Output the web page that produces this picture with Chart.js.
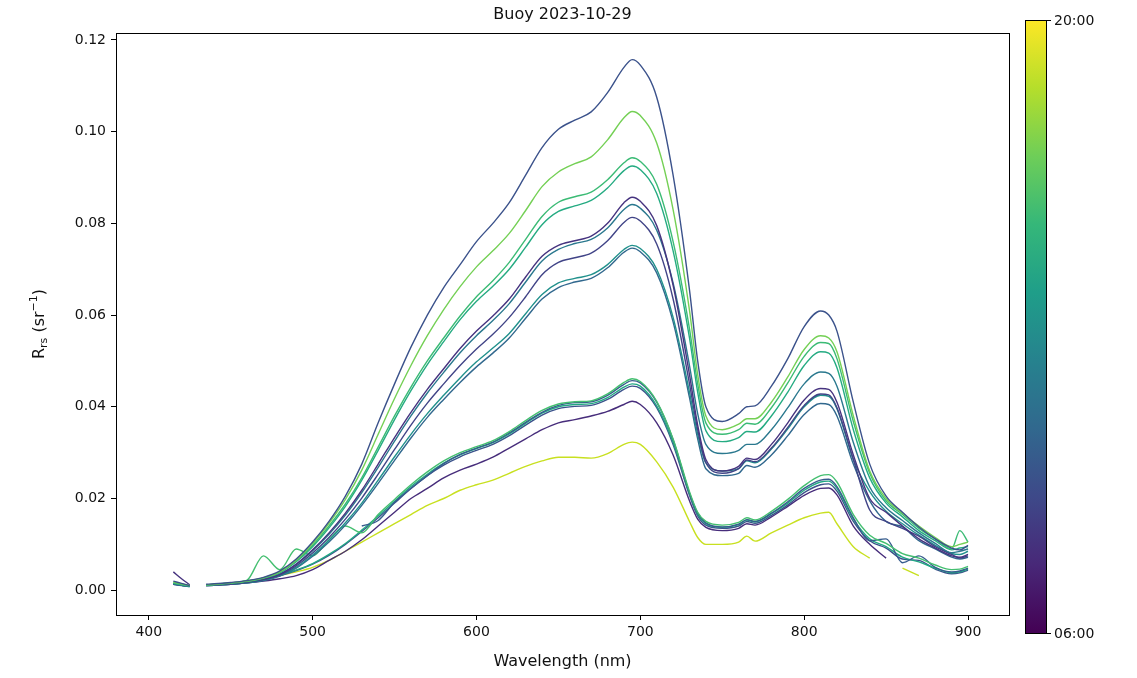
<!DOCTYPE html>
<html>
<head>
<meta charset="utf-8">
<script src="https://cdn.jsdelivr.net/npm/chart.js@4.4.1/dist/chart.umd.min.js"></script>
<style>
  html, body { margin: 0; padding: 0; background: #fff; }
  #wrap { width: 1137px; height: 678px; }
</style>
</head>
<body>
<div id="wrap"><canvas id="rrsChart"></canvas></div>
<script>
// wavelength grid (nm)
const wavelengths = [415, 420, 425, 430, 435, 440,
    450, 460, 470, 480, 490, 500, 510, 520, 530, 540,
    550, 560, 570, 580, 590, 600, 610, 620, 630, 640,
    650, 660, 670, 680, 690, 695, 700,
    710, 720, 730, 735, 740, 750, 760, 765, 770,
    780, 790, 800, 810, 815, 820, 830,
    840, 850, 860, 870, 880, 890, 895, 900];

const xTicks = [400, 500, 600, 700, 800, 900];
const yTicks = [0.00, 0.02, 0.04, 0.06, 0.08, 0.10, 0.12];
const colorbarLabels = ['06:00', '20:00'];

// Rrs spectra, one per measurement
const rrsA = [.0020, .0015, .0010, null, .0013, .0014,
    .0017, .0021, .0028, .0042, .0068, .0105, .0150, .0205, .0275, .0365,
    .0450, .0530, .0600, .0660, .0710, .0760, .0800, .0845, .0905, .0965,
    .1005, .1025, .1043, .1085, .1140, .1157, .1145,
    .1075, .0905, .0655, .0500, .0400, .0368, .0385, .0400, .0402,
    .0445, .0505, .0575, .0609, .0600, .0565, .0410,
    .0275, .0205, .0170, .0138, .0112, .0092, .0088, .0098];
const rrsB = [.0018, .0014, .0010, null, .0012, .0013,
    .0016, .0020, .0027, .0040, .0066, .0102, .0146, .0198, .0262, .0340,
    .0418, .0490, .0555, .0612, .0662, .0705, .0740, .0778, .0828, .0880,
    .0912, .0930, .0945, .0982, .1030, .1044, .1035,
    .0975, .0830, .0610, .0470, .0380, .0350, .0362, .0374, .0374,
    .0410, .0465, .0525, .0555, .0550, .0520, .0380,
    .0260, .0200, .0168, .0140, .0115, .0095, .0100, .0105];
const rrsC = [.0016, .0013, .0010, null, .0012, .0013,
    .0016, .0020, .0027, .0040, .0064, .0098, .0140, .0188, .0245, .0312,
    .0380, .0443, .0500, .0550, .0598, .0640, .0675, .0715, .0765, .0815,
    .0846, .0858, .0868, .0895, .0932, .0943, .0935,
    .0885, .0760, .0570, .0450, .0365, .0340, .0350, .0364, .0362,
    .0398, .0452, .0510, .0540, .0538, .0505, .0368,
    .0255, .0195, .0165, .0135, .0112, .0090, .0130, .0105];
const rrsD = [.0015, .0012, .0009, null, .0011, .0012,
    .0015, .0019, .0026, .0038, .0062, .0095, .0136, .0183, .0240, .0305,
    .0372, .0435, .0492, .0542, .0590, .0630, .0663, .0700, .0748, .0797,
    .0826, .0838, .0850, .0877, .0915, .0925, .0917,
    .0865, .0740, .0550, .0432, .0348, .0324, .0333, .0346, .0345,
    .0380, .0432, .0490, .0520, .0517, .0485, .0350,
    .0245, .0190, .0160, .0130, .0108, .0088, .0092, .0095];
const rrsE = [.0040, .0025, .0012, null, .0011, .0012,
    .0014, .0018, .0024, .0035, .0057, .0088, .0125, .0168, .0218, .0275,
    .0333, .0388, .0438, .0483, .0527, .0565, .0598, .0635, .0683, .0728,
    .0752, .0762, .0772, .0800, .0845, .0857, .0848,
    .0795, .0665, .0470, .0360, .0285, .0260, .0270, .0288, .0285,
    .0318, .0365, .0415, .0440, .0438, .0410, .0295,
    .0200, .0170, .0140, .0112, .0092, .0075, .0072, .0078];
const rrsF = [.0015, .0012, .0009, null, .0011, .0012,
    .0014, .0018, .0024, .0035, .0056, .0086, .0122, .0164, .0213, .0268,
    .0325, .0380, .0430, .0475, .0518, .0555, .0588, .0625, .0672, .0718,
    .0743, .0756, .0765, .0790, .0830, .0841, .0833,
    .0785, .0670, .0490, .0385, .0318, .0298, .0305, .0318, .0318,
    .0350, .0398, .0450, .0476, .0473, .0445, .0322,
    .0225, .0180, .0152, .0125, .0102, .0082, .0085, .0090];
const rrsG = [.0014, .0011, .0009, null, .0010, .0011,
    .0013, .0017, .0023, .0033, .0053, .0081, .0115, .0155, .0201, .0253,
    .0307, .0360, .0408, .0450, .0490, .0526, .0558, .0595, .0640, .0688,
    .0715, .0725, .0735, .0762, .0802, .0813, .0805,
    .0755, .0635, .0450, .0350, .0278, .0255, .0265, .0284, .0280,
    .0310, .0355, .0403, .0428, .0426, .0398, .0285,
    .0175, .0150, .0135, .0118, .0095, .0078, .0070, .0075];
const rrsH = [.0014, .0011, .0008, null, .0010, .0011,
    .0013, .0016, .0022, .0032, .0050, .0077, .0109, .0147, .0190, .0240,
    .0291, .0340, .0385, .0425, .0463, .0498, .0528, .0560, .0603, .0645,
    .0670, .0680, .0688, .0710, .0743, .0752, .0745,
    .0700, .0595, .0432, .0340, .0278, .0260, .0265, .0282, .0278,
    .0308, .0352, .0400, .0425, .0423, .0396, .0285,
    .0215, .0172, .0145, .0120, .0098, .0080, .0078, .0085];
const rrsI = [.0013, .0010, .0008, null, .0010, .0011,
    .0013, .0016, .0021, .0031, .0048, .0074, .0105, .0142, .0185, .0233,
    .0283, .0332, .0377, .0416, .0453, .0487, .0517, .0550, .0593, .0635,
    .0660, .0672, .0680, .0703, .0737, .0746, .0738,
    .0692, .0585, .0420, .0330, .0265, .0250, .0255, .0272, .0268,
    .0295, .0337, .0383, .0407, .0405, .0380, .0275,
    .0195, .0150, .0138, .0108, .0090, .0072, .0068, .0072];
const rrsJ = [.0015, .0012, .0010, null, .0012, .0013,
    .0016, .0022, .0075, .0045, .0090, .0075, .0110, .0140, .0125, .0165,
    .0198, .0230, .0258, .0282, .0300, .0313, .0326, .0346, .0370, .0392,
    .0406, .0411, .0413, .0428, .0453, .0461, .0455,
    .0412, .0330, .0215, .0170, .0150, .0142, .0148, .0158, .0153,
    .0172, .0198, .0228, .0250, .0252, .0236, .0165,
    .0120, .0102, .0080, .0070, .0055, .0045, .0046, .0052];
const rrsK = [null, null, null, null, null, null,
    null, null, null, null, null, null, null, null, .0140, .0152,
    .0192, .0222, .0250, .0276, .0296, .0310, .0323, .0343, .0366, .0388,
    .0403, .0409, .0411, .0425, .0449, .0457, .0452,
    .0410, .0328, .0212, .0168, .0147, .0138, .0144, .0154, .0150,
    .0168, .0193, .0222, .0240, .0242, .0226, .0158,
    .0108, .0112, .0060, .0075, .0050, .0040, .0042, .0048];
const rrsL = [.0014, .0011, .0009, null, .0011, .0012,
    .0015, .0019, .0025, .0033, .0044, .0058, .0078, .0102, .0131, .0162,
    .0194, .0226, .0253, .0277, .0295, .0309, .0322, .0341, .0364, .0386,
    .0400, .0405, .0407, .0420, .0443, .0450, .0445,
    .0402, .0322, .0210, .0165, .0145, .0137, .0143, .0153, .0149,
    .0167, .0190, .0218, .0236, .0238, .0222, .0155,
    .0112, .0095, .0072, .0062, .0048, .0038, .0040, .0046];
const rrsM = [.0014, .0011, .0009, null, .0011, .0012,
    .0015, .0018, .0024, .0032, .0043, .0057, .0076, .0100, .0128, .0158,
    .0190, .0222, .0250, .0273, .0291, .0305, .0318, .0337, .0360, .0382,
    .0396, .0401, .0403, .0416, .0438, .0445, .0440,
    .0398, .0318, .0207, .0162, .0142, .0135, .0140, .0150, .0146,
    .0163, .0186, .0213, .0230, .0232, .0216, .0150,
    .0108, .0092, .0068, .0065, .0046, .0036, .0038, .0044];
const rrsN = [.0013, .0011, .0009, null, .0010, .0011,
    .0013, .0016, .0020, .0025, .0032, .0045, .0065, .0085, .0110, .0140,
    .0170, .0200, .0222, .0245, .0262, .0275, .0290, .0310, .0330, .0350,
    .0365, .0372, .0380, .0390, .0405, .0412, .0405,
    .0365, .0295, .0195, .0155, .0137, .0130, .0135, .0145, .0142,
    .0160, .0183, .0207, .0222, .0223, .0208, .0140,
    .0100, .0070, null, null, null, null, null, null];
const rrsO = [null, null, null, null, null, .0012,
    .0014, .0018, .0024, .0032, .0040, .0050, .0065, .0085, .0105, .0125,
    .0145, .0165, .0185, .0200, .0218, .0230, .0240, .0255, .0270, .0282,
    .0290, .0290, .0288, .0298, .0318, .0323, .0318,
    .0280, .0225, .0150, .0115, .0100, .0100, .0105, .0118, .0107,
    .0125, .0142, .0158, .0168, .0170, .0145, .0095,
    .0070, null, .0048, .0032, null, null, null, null];

const spectra = [rrsA, rrsB, rrsC, rrsD, rrsE, rrsF, rrsG, rrsH, rrsI,
                 rrsJ, rrsK, rrsL, rrsM, rrsN, rrsO];
const lineColors = ['#3b528b', '#74d055', '#3bbb75', '#25ab82', '#46337f',
                    '#2a788e', '#414487', '#21918c', '#31688e',
                    '#44bf70', '#365c8d', '#22a884', '#3b528b', '#472d7b', '#c8e020'];

const viridis = ['#440154', '#482878', '#3e4989', '#31688e', '#26828e',
                 '#1f9e89', '#35b779', '#6ece58', '#b5de2b', '#fde725'];

const FONT = 'DejaVu Sans, sans-serif';

const datasets = spectra.map((vals, i) => ({
    data: wavelengths.map((w, j) => ({ x: w, y: vals[j] })),
    borderColor: lineColors[i],
    borderWidth: 1.4,
    pointRadius: 0,
    fill: false,
    spanGaps: false,
    cubicInterpolationMode: 'monotone'
}));

const decorations = {
    id: 'decorations',
    afterDraw(chart) {
        const ctx = chart.ctx;
        const a = chart.chartArea;
        ctx.save();
        // frame
        ctx.strokeStyle = '#000';
        ctx.lineWidth = 1;
        ctx.strokeRect(a.left + 0.5, a.top + 0.5, a.right - a.left, a.bottom - a.top);

        ctx.fillStyle = '#111';
        ctx.textAlign = 'center';
        ctx.textBaseline = 'middle';
        ctx.font = '16px ' + FONT;
        ctx.fillText('Buoy 2023-10-29', (a.left + a.right) / 2, 15);
        ctx.fillText('Wavelength (nm)', (a.left + a.right) / 2, 662);

        // y label R_rs (sr^-1)
        ctx.translate(40, (a.top + a.bottom) / 2);
        ctx.rotate(-Math.PI / 2);
        const parts = [
            { t: 'R', f: '16px ' + FONT, dy: 0 },
            { t: 'rs', f: '11px ' + FONT, dy: 4 },
            { t: ' (sr', f: '16px ' + FONT, dy: 0 },
            { t: '\u22121', f: '11px ' + FONT, dy: -6 },
            { t: ')', f: '16px ' + FONT, dy: 0 }
        ];
        let total = 0;
        parts.forEach(p => { ctx.font = p.f; p.w = ctx.measureText(p.t).width; total += p.w; });
        let x = -total / 2;
        ctx.textAlign = 'left';
        parts.forEach(p => { ctx.font = p.f; ctx.fillText(p.t, x, p.dy); x += p.w; });
        ctx.restore();

        // colorbar
        ctx.save();
        const cbL = 1025, cbR = 1046, cbT = 20, cbB = 633;
        const g = ctx.createLinearGradient(0, cbB, 0, cbT);
        viridis.forEach((c, i) => g.addColorStop(i / (viridis.length - 1), c));
        ctx.fillStyle = g;
        ctx.fillRect(cbL, cbT, cbR - cbL, cbB - cbT);
        ctx.strokeStyle = '#000';
        ctx.lineWidth = 1;
        ctx.strokeRect(cbL + 0.5, cbT + 0.5, cbR - cbL, cbB - cbT);
        ctx.beginPath();
        ctx.moveTo(cbR, cbT + 0.5); ctx.lineTo(cbR + 5, cbT + 0.5);
        ctx.moveTo(cbR, cbB + 0.5); ctx.lineTo(cbR + 5, cbB + 0.5);
        ctx.stroke();
        ctx.fillStyle = '#111';
        ctx.font = '14px ' + FONT;
        ctx.textAlign = 'left';
        ctx.textBaseline = 'middle';
        ctx.fillText(colorbarLabels[1], cbR + 8, cbT + 1);
        ctx.fillText(colorbarLabels[0], cbR + 8, cbB + 1);
        ctx.restore();
    }
};

new Chart(document.getElementById('rrsChart').getContext('2d'), {
    type: 'line',
    data: { datasets: datasets },
    options: {
        responsive: true,
        maintainAspectRatio: false,
        animation: false,
        events: [],
        layout: { padding: { left: 0, top: 33, right: 128, bottom: 0 } },
        plugins: { legend: { display: false }, tooltip: { enabled: false } },
        scales: {
            x: {
                type: 'linear',
                min: 380,
                max: 925,
                afterBuildTicks: s => { s.ticks = xTicks.map(v => ({ value: v })); },
                afterFit: s => { s.height = 63; },
                ticks: { color: '#111', font: { family: FONT, size: 14 }, padding: 4, maxRotation: 0 },
                grid: { drawOnChartArea: false, color: '#000', tickLength: 5 },
                border: { color: '#000' }
            },
            y: {
                min: -0.0054,
                max: 0.1215,
                afterBuildTicks: s => { s.ticks = yTicks.map(v => ({ value: v })); },
                afterFit: s => { s.width = 116; },
                ticks: {
                    color: '#111',
                    font: { family: FONT, size: 14 },
                    padding: 5,
                    callback: v => v.toFixed(2)
                },
                grid: { drawOnChartArea: false, color: '#000', tickLength: 5 },
                border: { color: '#000' }
            }
        }
    },
    plugins: [decorations]
});
</script>
</body>
</html>
